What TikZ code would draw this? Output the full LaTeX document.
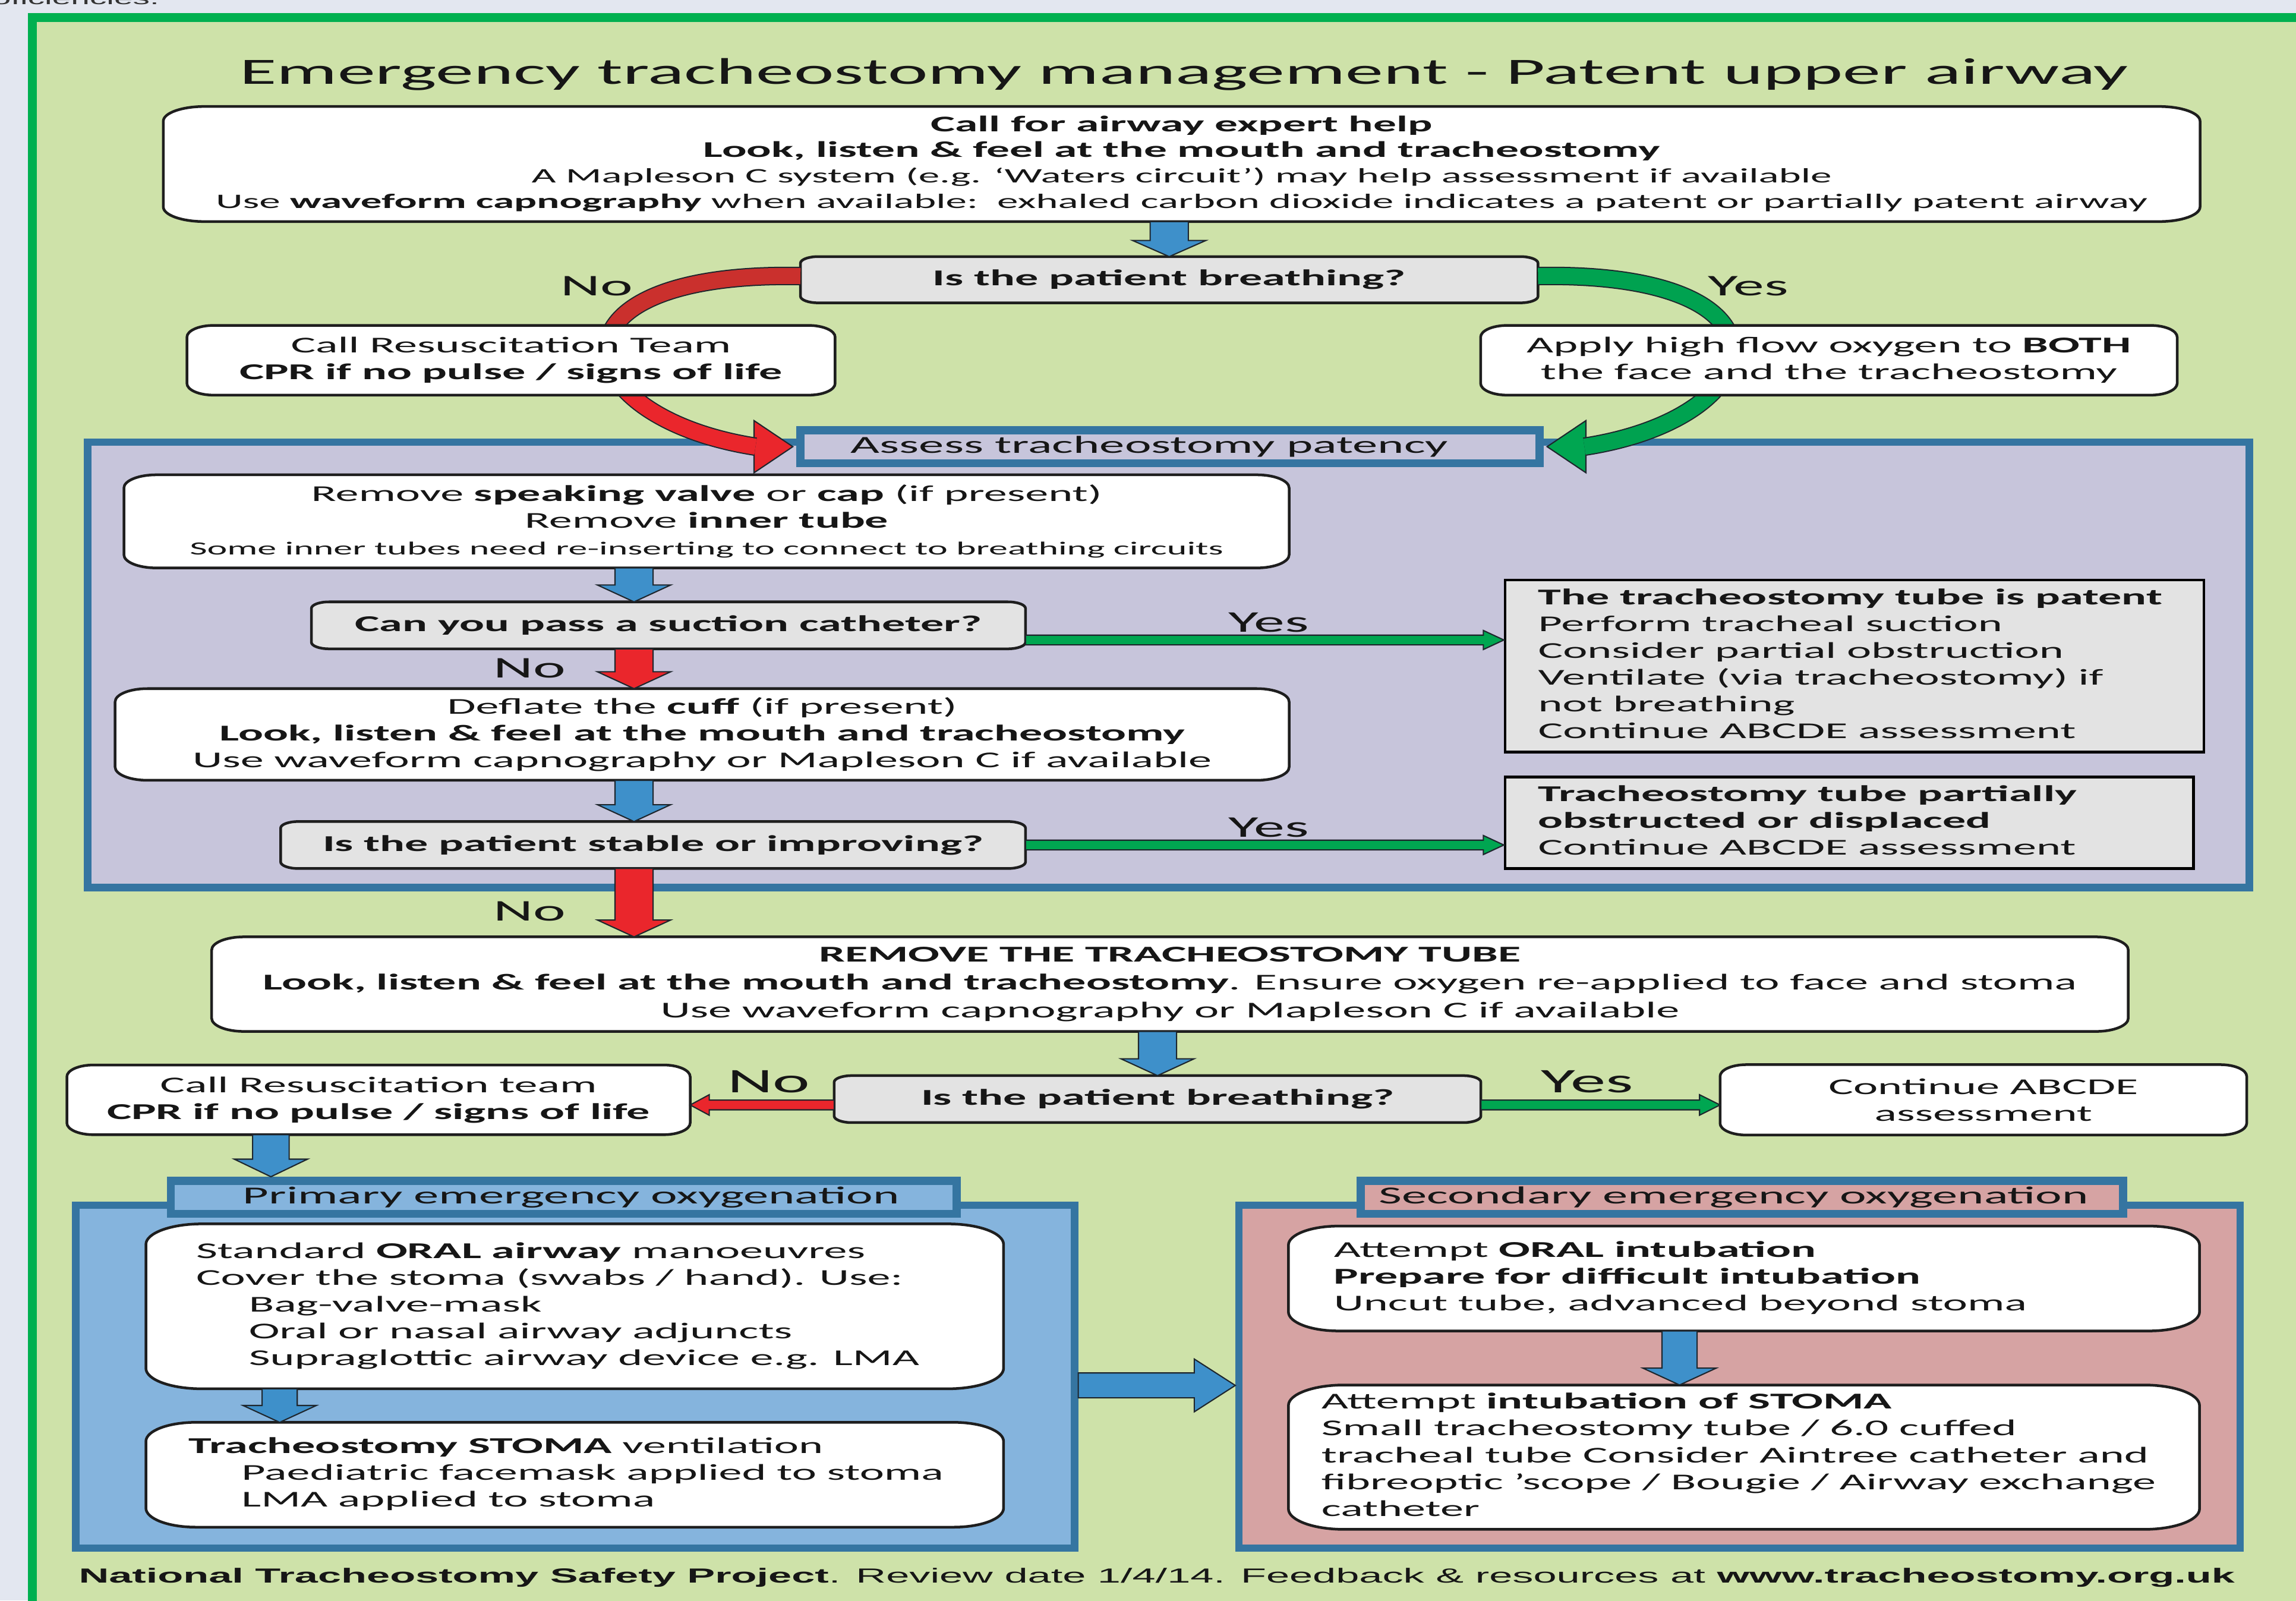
\documentclass[tikz,border=0pt]{standalone}
\usepackage{fontspec}
\setmainfont{Carlito}[FakeStretch=2.05]
\newfontfamily\arialf{Liberation Sans}[FakeStretch=2.05]
\usetikzlibrary{calc}
\pgfdeclarelayer{back}
\pgfdeclarelayer{mid}
\pgfsetlayers{back,mid,main}

\definecolor{pagebg}{RGB}{227,231,240}
\definecolor{framegreen}{RGB}{0,176,80}
\definecolor{lightgreen}{RGB}{206,226,169}
\definecolor{lavender}{RGB}{199,197,219}
\definecolor{steel}{RGB}{53,117,161}
\definecolor{lightblue}{RGB}{133,180,221}
\definecolor{pinkbg}{RGB}{214,163,163}
\definecolor{boxgrey}{RGB}{227,227,227}
\definecolor{arrblue}{RGB}{62,144,202}
\definecolor{arrred}{RGB}{234,38,44}
\definecolor{darkred}{RGB}{202,48,45}
\definecolor{arrgreen}{RGB}{0,166,81}
\definecolor{curvegreen}{RGB}{0,162,80}
\definecolor{arrline}{RGB}{30,38,45}
\definecolor{boxedge}{RGB}{30,30,30}
\definecolor{ink}{RGB}{22,22,22}

\newlength\pxl
\setlength\pxl{0.71132pt}
\newcommand\fsz[2]{\fontsize{#1}{#2}\selectfont}
\newcommand\leftblock[2]{\makebox[#1\pxl][l]{\begin{tabular}{@{}l@{}}#2\end{tabular}}}
\newcommand\indt{\hspace*{25.6pt}}

% vertical block arrow: from, to, fill, shaft half width, head half width, head length (px)
\newcommand\varr[6]{%
  \filldraw[fill=#3,draw=arrline,line width=0.6pt,line join=miter]
    let \p1=(#1),\p2=(#2) in
    ({\x1-#4*\pxl},\y1) -- ({\x1-#4*\pxl},{\y2+#6*\pxl}) -- ({\x1-#5*\pxl},{\y2+#6*\pxl})
    -- (\x1,\y2) -- ({\x1+#5*\pxl},{\y2+#6*\pxl}) -- ({\x1+#4*\pxl},{\y2+#6*\pxl})
    -- ({\x1+#4*\pxl},\y1) -- cycle;}
% horizontal block arrow: from, to, fill, shaft half, head half, head length, direction (1 right, -1 left)
\newcommand\harr[7]{%
  \filldraw[fill=#3,draw=arrline,line width=0.6pt,line join=miter]
    let \p1=(#1),\p2=(#2) in
    (\x1,{\y1+#4*\pxl}) -- ({\x2-(#7)*#6*\pxl},{\y1+#4*\pxl}) -- ({\x2-(#7)*#6*\pxl},{\y1+#5*\pxl})
    -- (\x2,\y1) -- ({\x2-(#7)*#6*\pxl},{\y1-#5*\pxl}) -- ({\x2-(#7)*#6*\pxl},{\y1-#4*\pxl})
    -- (\x1,{\y1-#4*\pxl}) -- cycle;}
% arrow head only: tip, fill, half width, length, direction
\newcommand\headarr[5]{%
  \filldraw[fill=#2,draw=arrline,line width=0.6pt,line join=miter]
    let \p1=(#1) in
    ({\x1-(#5)*#4*\pxl},{\y1+#3*\pxl}) -- (\x1,\y1) -- ({\x1-(#5)*#4*\pxl},{\y1-#3*\pxl}) -- cycle;}
% box outline with elliptical corners: node, rx, ry, fill
\newcommand\ebox[4]{%
  \filldraw[fill=#4,draw=boxedge,line width=1.3pt]
    let \p1=(#1.north west),\p2=(#1.south east) in
    ({\x1+#2*\pxl},\y1) -- ({\x2-#2*\pxl},\y1)
    arc[start angle=90,end angle=0,x radius=#2*\pxl,y radius=#3*\pxl]
    -- (\x2,{\y2+#3*\pxl})
    arc[start angle=0,end angle=-90,x radius=#2*\pxl,y radius=#3*\pxl]
    -- ({\x1+#2*\pxl},\y2)
    arc[start angle=270,end angle=180,x radius=#2*\pxl,y radius=#3*\pxl]
    -- (\x1,{\y1-#3*\pxl})
    arc[start angle=180,end angle=90,x radius=#2*\pxl,y radius=#3*\pxl] -- cycle;}

\tikzset{
  txt/.style={inner sep=0pt, text=ink},
  box/.style={txt, align=center, font=\fsz{11}{13}},
  sz/.style 2 args={minimum width=#1*\pxl, minimum height=#2*\pxl},
  region/.style={draw=steel, line width=3.6pt, inner sep=0pt},
  lblbox/.style={draw=steel, line width=3.9pt, inner sep=0pt, text=ink, font=\fsz{11.9}{14}},
  sqbox/.style={draw=black, line width=1.3pt, fill=boxgrey, inner sep=0pt, text=ink, font=\fsz{11}{13}},
  yn/.style={txt, anchor=base, font=\fsz{14.6}{16}},
  ynl/.style={txt, anchor=base, font=\fsz{16.7}{18}},
  outline/.style={line width=8.96pt, arrline},
}

\begin{document}
\begin{tikzpicture}[x=0.025cm,y=-0.025cm]
\useasboundingbox (0,0) rectangle (1568,1093);

\begin{pgfonlayer}{back}
  \fill[pagebg] (0,0) rectangle (1568,1093);
  \filldraw[fill=lightgreen,draw=framegreen,line width=4.3pt] (22,12) rectangle (1620,1140);
  \node[region, fill=lavender, sz={1476}{304}] (lav) at (798,454) {};
  \node[region, fill=lightblue, sz={682}{234}] (prim) at (392.75,940) {};
  \node[region, fill=pinkbg, sz={683.5}{234}] (sec) at (1188,940) {};
\end{pgfonlayer}

\node[txt, anchor=base east, font=\arialf\fsz{8}{9}, text=black!80] (frag) at (109,3) {proficiencies.};
\node[txt, anchor=base, font=\fsz{18}{20}] (title) at (808.5,57.4) {Emergency tracheostomy management - Patent upper airway};

\node[box, sz={1390}{78}, font=\fsz{10.9}{12.4}] (top) at (807,112)
  {\textbf{Call for airway expert help}\\\textbf{Look, listen \& feel at the mouth and tracheostomy}\\{\fsz{10}{12.4}A Mapleson C system (e.g. ‘Waters circuit’) may help assessment if available}\\{\fsz{10}{12.4}Use \textbf{waveform capnography} when available:\ \ exhaled carbon dioxide indicates a patent or partially patent airway}};
\node[box, sz={503}{31}] (br1) at (798.5,191) {\textbf{Is the patient breathing?}};
\node[box, sz={442}{47}] (cr1) at (349,246) {Call Resuscitation Team\\\textbf{CPR if no pulse / signs of life}};
\node[box, sz={475}{47}] (apply) at (1249,246) {Apply high flow oxygen to \textbf{BOTH}\\the face and the tracheostomy};
\node[lblbox, fill=lavender, sz={504.5}{22.5}] (assess) at (799,305) {Assess tracheostomy patency\hspace*{28\pxl}};
\node[box, sz={795}{63}] (remove) at (482.5,356)
  {Remove \textbf{speaking valve} or \textbf{cap} (if present)\\Remove \textbf{inner tube}\\{\fsz{9}{13}Some inner tubes need re-inserting to connect to breathing circuits}};
\node[box, sz={487}{31.5}] (suc) at (456.5,427) {\textbf{Can you pass a suction catheter?}};
\node[sqbox, sz={477}{117.5}] (patent) at (1266.5,454.75)
  {\leftblock{432}{\textbf{The tracheostomy tube is patent}\\Perform tracheal suction\\Consider partial obstruction\\Ventilate (via tracheostomy) if\\not breathing\\Continue ABCDE assessment}};
\node[box, sz={801}{62}] (deflate) at (479.5,501.5)
  {Deflate the \textbf{cuff} (if present)\\\textbf{Look, listen \& feel at the mouth and tracheostomy}\\Use waveform capnography or Mapleson C if available};
\node[box, sz={508}{31.5}] (stable) at (446,577) {\textbf{Is the patient stable or improving?}};
\node[sqbox, sz={470}{62.5}] (partial) at (1263,561.75)
  {\leftblock{425}{\textbf{Tracheostomy tube partially}\\\textbf{obstructed or displaced}\\Continue ABCDE assessment}};
\node[box, sz={1308}{64}, font=\fsz{11}{13.5}] (removeT) at (799,672)
  {\textbf{REMOVE THE TRACHEOSTOMY TUBE}\\\textbf{Look, listen \& feel at the mouth and tracheostomy}. Ensure oxygen re-applied to face and stoma\\Use waveform capnography or Mapleson C if available};
\node[box, sz={441}{31.5}] (br2) at (790.5,750.5) {\textbf{Is the patient breathing?}};
\node[box, sz={425}{47}] (cr2) at (258.5,751) {Call Resuscitation team\\\textbf{CPR if no pulse / signs of life}};
\node[box, sz={359}{47.5}] (cont) at (1354.5,751) {Continue ABCDE\\assessment};
\node[lblbox, fill=lightblue, sz={536.5}{22.5}] (plabel) at (385,817.5) {\hspace*{10\pxl}Primary emergency oxygenation};
\node[lblbox, fill=pinkbg, sz={520.5}{22.5}] (slabel) at (1189.5,817.5) {Secondary emergency oxygenation\hspace*{11\pxl}};
\node[box, sz={585}{112}] (boxA) at (392.5,892)
  {\leftblock{517}{Standard \textbf{ORAL airway} manoeuvres\\Cover the stoma (swabs / hand). Use:\\\indt Bag-valve-mask\\\indt Oral or nasal airway adjuncts\\\indt Supraglottic airway device e.g. LMA}};
\node[box, sz={585}{71}] (boxB) at (392.5,1007)
  {\leftblock{527}{\textbf{Tracheostomy STOMA} ventilation\\\indt Paediatric facemask applied to stoma\\\indt LMA applied to stoma}};
\node[box, sz={621.5}{71}] (boxC) at (1191,873)
  {\leftblock{560}{Attempt \textbf{ORAL intubation}\\\textbf{Prepare for difficult intubation}\\Uncut tube, advanced beyond stoma}};
\node[box, sz={621.5}{98}] (boxD) at (1191,995)
  {\leftblock{577}{Attempt \textbf{intubation of STOMA}\\Small tracheostomy tube / 6.0 cuffed\\tracheal tube Consider Aintree catheter and\\fibreoptic ’scope / Bougie / Airway exchange\\catheter}};

\node[yn] (no1) at (407.5,202) {No};
\node[yn] (yes1) at (1194,202) {Yes};
\node[yn] (yes2) at (866.5,431.5) {Yes};
\node[yn] (no2) at (361.8,463) {No};
\node[yn] (yes3) at (866.5,571.5) {Yes};
\node[yn] (no3) at (361.8,628.6) {No};
\node[ynl] (no4) at (525,746) {No};
\node[ynl] (yes4) at (1084,746) {Yes};

\node[txt, anchor=base, font=\arialf\fsz{9.9}{11}] (foot) at (790,1081)
  {\textbf{National Tracheostomy Safety Project}. Review date 1/4/14. Feedback \& resources at \textbf{www.tracheostomy.org.uk}};

% hidden bend point of the No curve (behind the resuscitation box)
\coordinate (nomid) at (414.47,237.94);
\coordinate (noend) at ($(assess.west)+(-28,0)$);
\coordinate (yesend) at ($(assess.east)+(28,0)$);

\begin{pgfonlayer}{mid}
  \ebox{top}{28}{10}{white}
  \ebox{br1}{12}{4.5}{boxgrey}
  \ebox{remove}{22}{9}{white}
  \ebox{suc}{12}{4.5}{boxgrey}
  \ebox{deflate}{22}{9}{white}
  \ebox{stable}{12}{4.5}{boxgrey}
  \ebox{removeT}{22}{9}{white}
  \ebox{br2}{12}{4.5}{boxgrey}
  \ebox{cr2}{18}{8}{white}
  \ebox{cont}{18}{8}{white}
  \ebox{boxA}{38}{14}{white}
  \ebox{boxB}{34}{13}{white}
  \ebox{boxC}{34}{13}{white}
  \ebox{boxD}{38}{14}{white}
  % curved No arrow
  \headarr{$(assess.west)+(-2.5,0)$}{arrred}{17.8}{26.5}{1}
  \draw[outline] ($(br1.west)+(0,-2.5)$) .. controls (456,186.75) and (415.5,210.875) .. (nomid);
  \draw[outline] (nomid) .. controls (413.44,265) and (451.875,295) .. (noend);
  \draw[line width=7.8pt,darkred] ($(br1.west)+(0,-2.5)$) .. controls (456,186.75) and (415.5,210.875) .. (nomid);
  \draw[line width=7.8pt,arrred] (nomid) .. controls (413.44,265) and (451.875,295) .. (noend);
  % curved Yes arrow
  \headarr{$(assess.east)+(2.5,0)$}{arrgreen}{17.8}{26.5}{-1}
  \draw[outline] ($(br1.east)+(0,-2.5)$) .. controls (1232,185) and (1212,285) .. (yesend);
  \draw[line width=7.8pt,curvegreen] ($(br1.east)+(0,-2.5)$) .. controls (1232,185) and (1212,285) .. (yesend);
  \ebox{cr1}{18}{8}{white}
  \ebox{apply}{18}{8}{white}
\end{pgfonlayer}

\coordinate (colx) at (433,0);
\coordinate (c2x) at (185,0);
\coordinate (abx) at (191,0);
\coordinate (cdx) at (1147,0);
\coordinate (bigy) at (0,946);

\varr{top.south -| br1.north}{br1.north}{arrblue}{13}{25}{11}
\varr{remove.south -| colx}{suc.north -| colx}{arrblue}{13}{25}{11.5}
\harr{$(suc.east)+(0,10)$}{patent.west}{arrgreen}{3.3}{6.5}{14}{1}
\varr{suc.south -| colx}{deflate.north -| colx}{arrred}{13}{25}{11.5}
\varr{deflate.south -| colx}{stable.north -| colx}{arrblue}{13}{25}{11.5}
\harr{stable.east}{partial.west}{arrgreen}{3.3}{6.5}{14}{1}
\varr{stable.south -| colx}{removeT.north -| colx}{arrred}{13}{25}{11.5}
\varr{removeT.south -| br2.north}{br2.north}{arrblue}{13}{25}{11.5}
\harr{$(br2.west)+(0,4)$}{cr2.east}{arrred}{3.3}{7}{13}{-1}
\harr{$(br2.east)+(0,4)$}{cont.west}{arrgreen}{3.3}{7}{14}{1}
\varr{cr2.south -| c2x}{plabel.north -| c2x}{arrblue}{12.5}{25}{12}
\varr{boxA.south -| abx}{boxB.north -| abx}{arrblue}{12}{25}{11.5}
\varr{boxC.south -| cdx}{boxD.north -| cdx}{arrblue}{12}{25}{11.5}
\harr{prim.east |- bigy}{sec.west}{arrblue}{8.5}{18}{28}{1}
\end{tikzpicture}
\end{document}
